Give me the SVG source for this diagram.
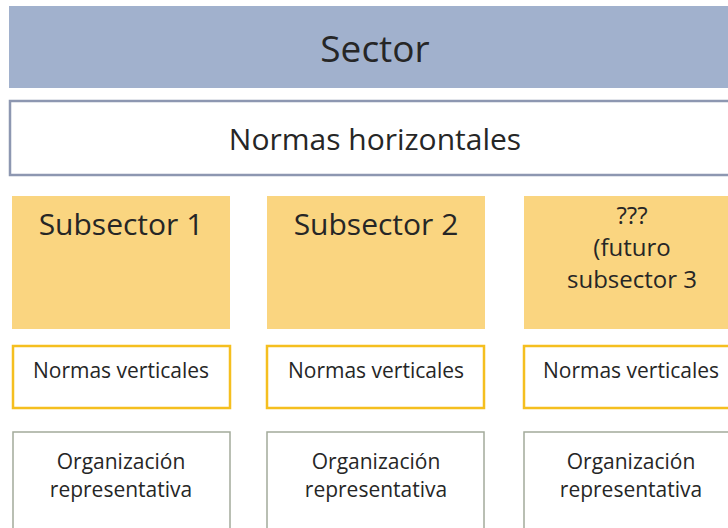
<svg xmlns="http://www.w3.org/2000/svg" width="728" height="528" viewBox="0 0 728 528">
<style>
text{font-family:"Open Sans","Liberation Sans",sans-serif;fill:#262626;text-anchor:middle}
.sub{fill:#fad580}
.nv{fill:#fff;stroke:#f5bf1f;stroke-width:2.5}
.org{fill:#fff;stroke:#a3aa9b;stroke-width:1.5}
.big{font-size:37px}
.mid{font-size:30px}
.s3{font-size:24px}
.sm{font-size:21px}
</style>
<rect width="728" height="528" fill="#fff"/>
<g id="sector"><rect x="9" y="6" width="730" height="82" fill="#a1b1cd"/><text class="big" x="375" y="62">Sector</text></g>
<g id="horizontales"><rect x="10" y="101" width="730" height="74" fill="#fff" stroke="#8d97b1" stroke-width="2.5"/><text class="mid" x="375" y="150">Normas horizontales</text></g>
<g id="sub1"><rect class="sub" x="12" y="196" width="218" height="133"/><text class="mid" x="121" y="235">Subsector 1</text></g>
<g id="sub2"><rect class="sub" x="267" y="196" width="218" height="133"/><text class="mid" x="376" y="235">Subsector 2</text></g>
<g id="sub3"><rect class="sub" x="524" y="196" width="218" height="133"/><text class="s3" x="632" y="224">???</text><text class="s3" x="632" y="256">(futuro</text><text class="s3" x="632" y="288">subsector 3</text></g>
<g id="nv1"><rect class="nv" x="13" y="346" width="217" height="62"/><text class="sm" x="121" y="378">Normas verticales</text></g>
<g id="nv2"><rect class="nv" x="267" y="346" width="217" height="62"/><text class="sm" x="376" y="378">Normas verticales</text></g>
<g id="nv3"><rect class="nv" x="524" y="346" width="217" height="62"/><text class="sm" x="631" y="378">Normas verticales</text></g>
<g id="org1"><rect class="org" x="13" y="432" width="217" height="110"/><text class="sm" x="121" y="469">Organización</text><text class="sm" x="121" y="497">representativa</text></g>
<g id="org2"><rect class="org" x="267" y="432" width="217" height="110"/><text class="sm" x="376" y="469">Organización</text><text class="sm" x="376" y="497">representativa</text></g>
<g id="org3"><rect class="org" x="524" y="432" width="217" height="110"/><text class="sm" x="631" y="469">Organización</text><text class="sm" x="631" y="497">representativa</text></g>
<g id="connectors"/>
</svg>
